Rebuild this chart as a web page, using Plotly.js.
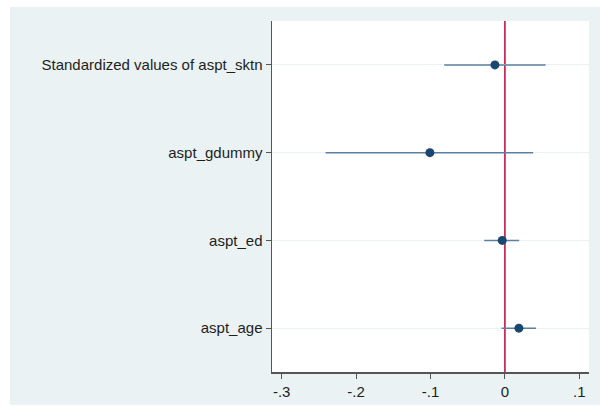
<!DOCTYPE html>
<html><head><meta charset="utf-8">
<script src="https://cdn.plot.ly/plotly-3.0.1.min.js"></script>
<style>
html,body{margin:0;padding:0;background:#fff;width:600px;height:406px;overflow:hidden;}
#chart{position:absolute;left:10px;top:7px;width:590px;height:398px;}
</style></head>
<body><div id="chart"></div>
<script>
const categories = ["Standardized values of aspt_sktn", "aspt_gdummy", "aspt_ed", "aspt_age"];
const positions = [4, 3, 2, 1];
const estimates = [-0.0134, -0.1008, -0.0036, 0.0188];
const ciLow = [-0.0815, -0.241, -0.0278, -0.0045];
const ciHigh = [0.0547, 0.038, 0.0192, 0.0417];
const xTickVals = [-0.3, -0.2, -0.1, 0, 0.1];
const xTickText = ["-.3", "-.2", "-.1", "0", ".1"];

const trace = {
  type: 'scatter', mode: 'markers',
  x: estimates, y: positions,
  marker: {color: '#1a476f', size: 9},
  error_x: {
    type: 'data', symmetric: false,
    array: estimates.map((e, i) => ciHigh[i] - e),
    arrayminus: estimates.map((e, i) => e - ciLow[i]),
    color: '#5b7ea1', thickness: 1.5, width: 0
  },
  hoverinfo: 'none'
};

const layout = {
  width: 590, height: 398,
  margin: {l: 262, r: 11, t: 14, b: 33},
  paper_bgcolor: '#eaf2f3', plot_bgcolor: '#ffffff',
  showlegend: false,
  font: {family: 'Liberation Sans, Arial, sans-serif', size: 15, color: '#1e1e1e'},
  xaxis: {
    range: [-0.313, 0.113], tickvals: xTickVals, ticktext: xTickText,
    showgrid: false, zeroline: false, showline: true, linecolor: '#555', linewidth: 1.5,
    ticks: 'outside', ticklen: 5, tickcolor: '#555', tickwidth: 1
  },
  yaxis: {
    range: [0.5, 4.5], tickvals: positions, ticktext: categories,
    showgrid: true, gridcolor: '#eaf2f3', gridwidth: 1, zeroline: false,
    showline: true, linecolor: '#555', linewidth: 1.5,
    ticks: 'outside', ticklen: 5, tickcolor: '#555', tickwidth: 1
  },
  shapes: [{type: 'line', xref: 'x', yref: 'paper', x0: 0, x1: 0, y0: 0, y1: 1,
    line: {color: '#c10534', width: 1.5}, layer: 'below'}]
};
Plotly.newPlot('chart', [trace], layout, {staticPlot: true, displayModeBar: false});
</script></body></html>
